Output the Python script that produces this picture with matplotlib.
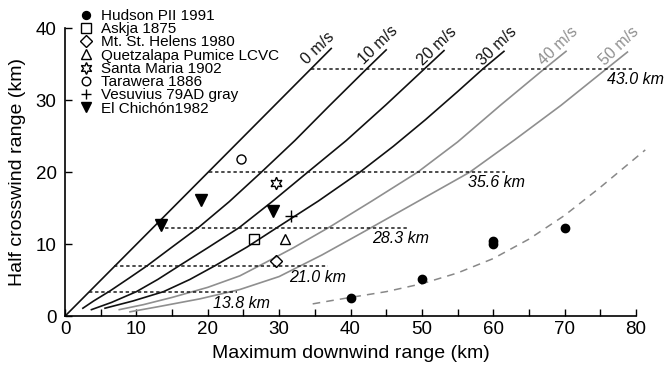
import numpy as np
import matplotlib
matplotlib.use("Agg")
import matplotlib.pyplot as plt
from matplotlib.ticker import MultipleLocator

plt.rcParams['font.family'] = ['Liberation Sans', 'DejaVu Sans']

# wind speed curves (downwind x, crosswind y)
wind_labels = ["0 m/s", "10 m/s", "20 m/s", "30 m/s", "40 m/s", "50 m/s"]
wind_x = [
    [0, 37.3],
    [2.5, 4, 6.3, 9, 11.5, 15, 18.8, 23, 27.5, 32.2, 37, 42.3, 45],
    [3.7, 6.5, 10, 13, 16, 20, 24.4, 29, 34, 39.4, 45, 50.4, 53.1],
    [5.6, 9.5, 13.8, 17.5, 21, 25.5, 29.7, 35.5, 41.3, 46, 50.5, 55, 58.6, 61.5],
    [7.6, 11, 15, 20, 24.5, 28, 32, 37.1, 43, 49.4, 55, 61, 67.2, 70.2],
    [9.1, 13, 18.9, 24.5, 30, 36, 42, 49, 56.7, 63, 69.5, 75.9, 78.8],
]
wind_y = [
    [0, 37.2],
    [1.1, 2.1, 3.5, 5.3, 7.0, 9.6, 12.4, 15.9, 20.0, 24.4, 29.2, 34.4, 37.0],
    [0.9, 1.9, 3.4, 5.1, 7.0, 9.5, 12.3, 15.9, 20.0, 24.4, 29.4, 34.4, 36.9],
    [1.1, 2.1, 3.4, 5.1, 7.0, 9.6, 12.3, 16.0, 20.0, 23.6, 27.3, 31.2, 34.4, 36.8],
    [0.9, 1.6, 2.6, 4.0, 5.6, 7.4, 9.5, 12.4, 16.0, 20.0, 24.2, 29.3, 34.4, 36.8],
    [0.6, 1.3, 2.4, 3.7, 5.5, 8.5, 11.8, 15.7, 20.0, 24.5, 29.3, 34.4, 36.7],
]
wind_label_xy = [(35.5, 37.3), (43.9, 37.6), (52.1, 37.5), (60.5, 37.5), (69.1, 37.5), (77.6, 37.5)]

# column heights (horizontal dotted lines)
col_labels = ["13.8 km", "21.0 km", "28.3 km", "35.6 km", "43.0 km"]
col_y = [3.4, 7.0, 12.3, 20.0, 34.4]
col_x0 = [3.4, 6.9, 13.2, 20.2, 34.4]
col_x1 = [24.1, 36.8, 48.0, 61.6, 79.4]
col_label_xy = [(20.8, 1.8), (31.4, 5.4), (43.0, 10.8), (56.4, 18.6), (76.0, 32.9)]

# Hudson trend (dashed grey)
hud_fit_x = [34.7, 37, 40, 45, 50, 55, 60, 65, 70, 75, 81.3]
hud_fit_y = [1.7, 2.1, 2.6, 3.4, 4.5, 6.0, 8.0, 10.7, 14.0, 17.9, 23.1]

# eruptions
hudson_x = [40, 50, 60, 60, 70]
hudson_y = [2.5, 5.2, 10.0, 10.5, 12.2]
askja = ([26.5], [10.65])
helens = ([29.6], [7.6])
quetz = ([30.8], [10.7])
santa = ([29.6], [18.5])
tarawera = ([24.7], [21.8])
vesuvius = ([31.7], [13.9])
chichon_x = [13.4, 19.0, 29.1]
chichon_y = [12.6, 16.2, 14.6]

fig = plt.figure(figsize=(6.67, 3.75), dpi=100)
ax = fig.add_axes([0.0975, 0.157, 0.856, 0.7675])

for i in range(len(wind_labels)):
    c = '#111111' if i < 4 else '#8f8f8f'
    ax.plot(wind_x[i], wind_y[i], color=c, lw=1.2)
    ax.text(wind_label_xy[i][0], wind_label_xy[i][1], wind_labels[i], color=c,
            rotation=44, ha='center', va='center', fontsize=11.5)

for i in range(len(col_labels)):
    ax.plot([col_x0[i], col_x1[i]], [col_y[i], col_y[i]], color='#1a1a1a', lw=1.1,
            dashes=(2.2, 1.8), clip_on=False)
    ax.text(col_label_xy[i][0], col_label_xy[i][1], col_labels[i], style='italic',
            ha='left', va='center', fontsize=11.5, clip_on=False)

ax.plot(hud_fit_x, hud_fit_y, color='#888888', lw=1.1, dashes=(5, 4), clip_on=False)

ax.plot(hudson_x, hudson_y, 'o', color='black', ms=6, ls='none', label="Hudson PII 1991")
ax.plot(*askja, 's', mfc='none', mec='black', ms=7, mew=1, ls='none', label="Askja 1875")
ax.plot(*helens, 'D', mfc='none', mec='black', ms=6.5, mew=1, ls='none', label="Mt. St. Helens 1980")
ax.plot(*quetz, '^', mfc='none', mec='black', ms=7.5, mew=1, ls='none', label="Quetzalapa Pumice LCVC")
ax.plot(*santa, marker=(6, 1, 0), mfc='none', mec='black', ms=9, mew=1, ls='none', label="Santa Maria 1902")
ax.plot(*tarawera, 'o', mfc='none', mec='black', ms=6.5, mew=1, ls='none', label="Tarawera 1886")
ax.plot(*vesuvius, '+', color='black', ms=8, mew=1, ls='none', label="Vesuvius 79AD gray")
ax.plot(chichon_x, chichon_y, 'v', color='black', ms=8, ls='none', label="El Chichón1982")

leg = fig.legend(loc='upper left', bbox_to_anchor=(0.118, 0.976), frameon=False,
                 fontsize=11, handlelength=1.0, handletextpad=0.45, labelspacing=-0.05,
                 borderpad=0, borderaxespad=0, markerscale=0.95)

ax.set_xlim(0, 80)
ax.set_ylim(0, 40)
ax.spines['top'].set_visible(False)
ax.spines['right'].set_visible(False)
ax.spines['left'].set_linewidth(1.2)
ax.spines['bottom'].set_linewidth(1.2)
ax.xaxis.set_major_locator(MultipleLocator(10))
ax.xaxis.set_minor_locator(MultipleLocator(5))
ax.yaxis.set_major_locator(MultipleLocator(10))
ax.tick_params(which='both', direction='in', length=5, width=1, labelsize=13.5)
ax.tick_params(axis='y', pad=6)
ax.set_xlabel("Maximum downwind range (km)", fontsize=14, labelpad=5)
ax.set_ylabel("Half crosswind range (km)", fontsize=14, labelpad=7)

fig.savefig("out.png", dpi=100)
